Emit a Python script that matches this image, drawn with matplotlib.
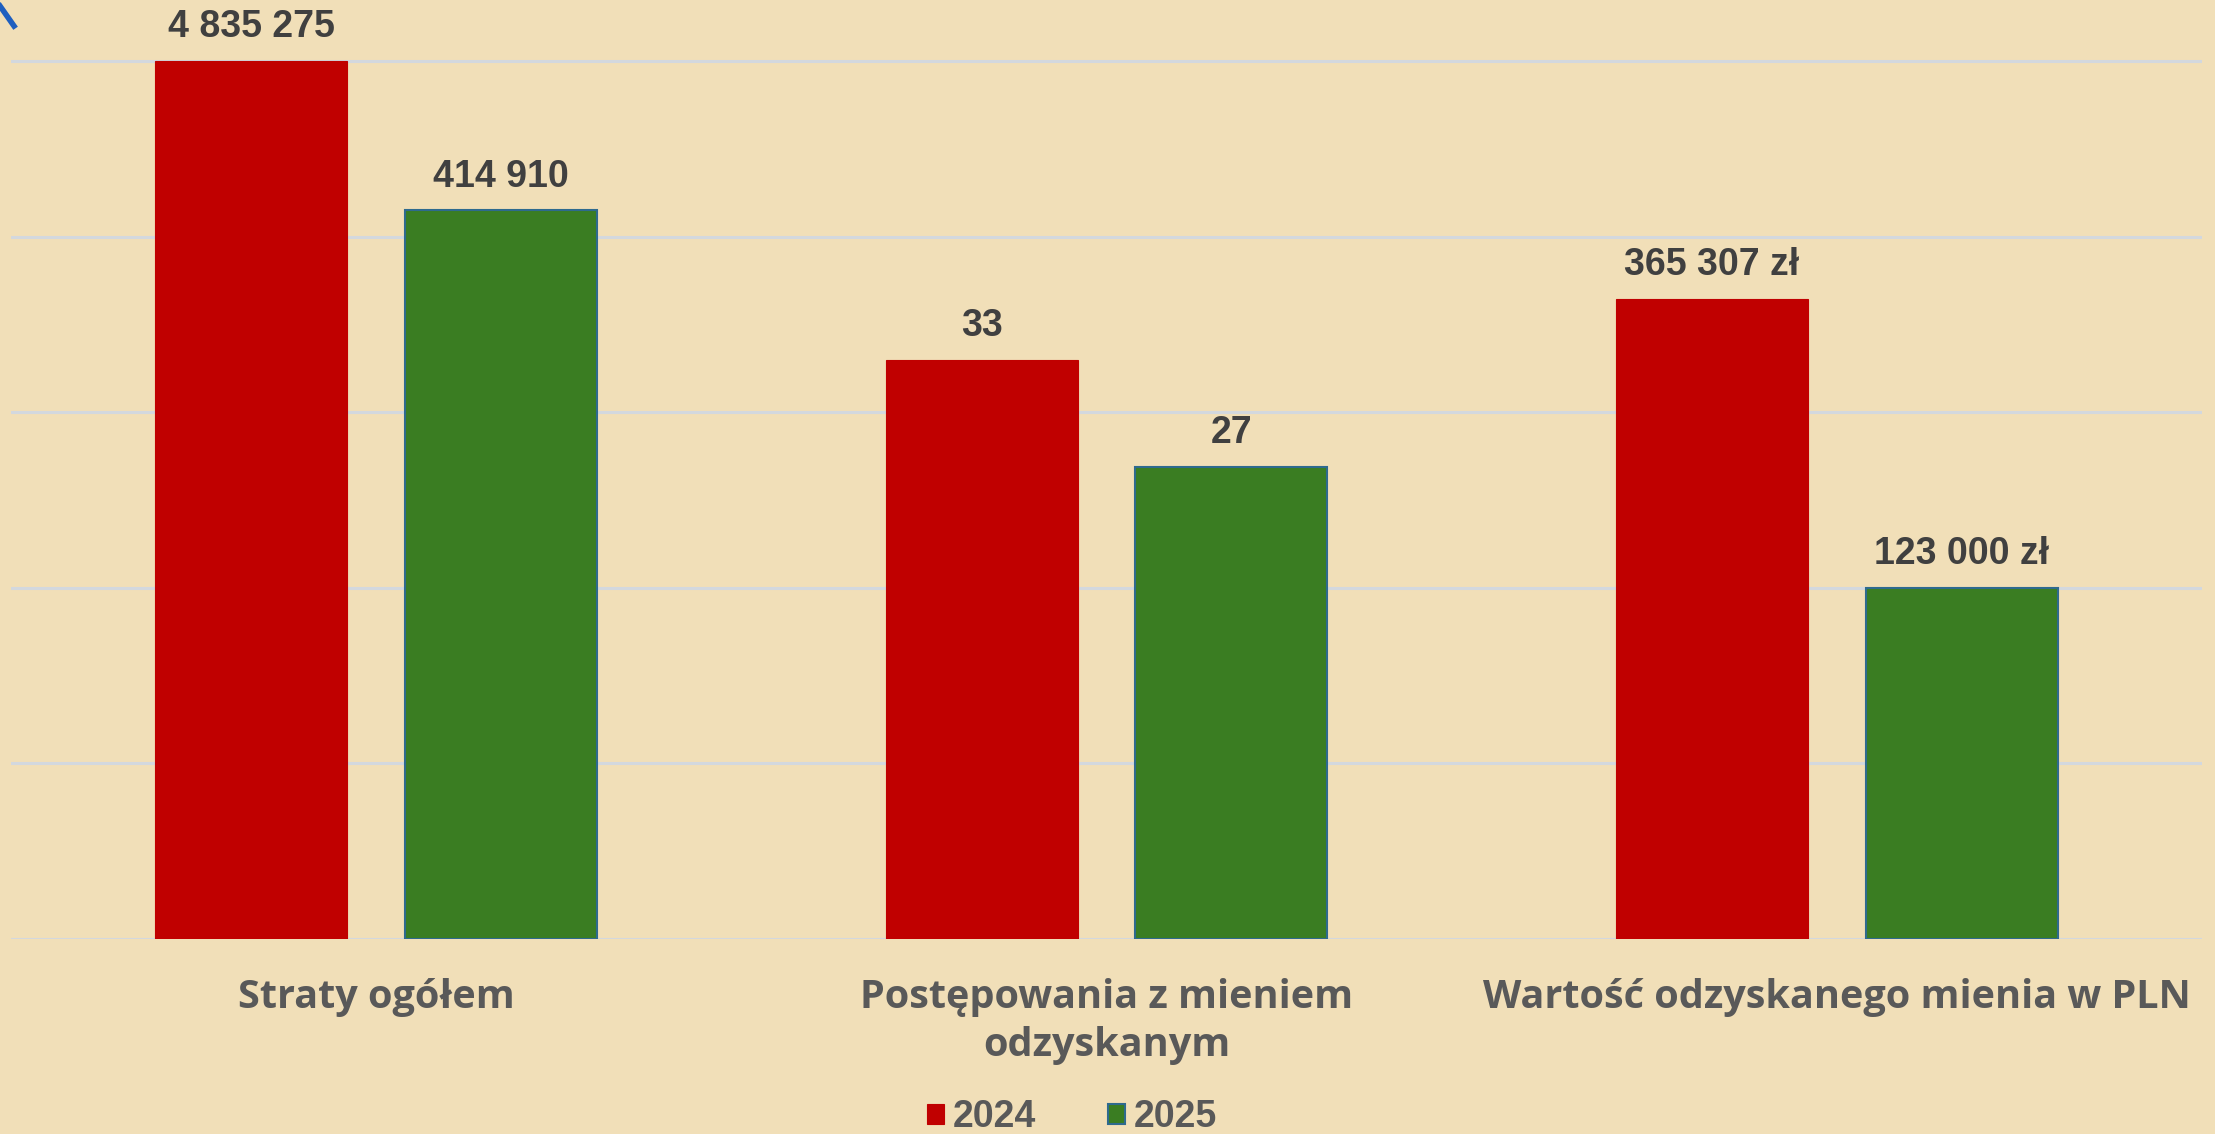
import numpy as np
import matplotlib
matplotlib.use("Agg")
import matplotlib.pyplot as plt
from matplotlib.lines import Line2D

# =========================
# 数据
# =========================

categories = ["Straty ogółem", "Postępowania z mieniem\nodzyskanym",
              "Wartość odzyskanego mienia w PLN"]

# bar heights as drawn in the chart (its own scale, 5 gridlines)
heights_2024 = [5.0, 3.30, 3.645]
heights_2025 = [4.15, 2.69, 2.0]

labels_2024 = ["4 835 275", "33", "365 307 zł"]
labels_2025 = ["414 910", "27", "123 000 zł"]

series_names = ["2024", "2025"]

# =========================
# 样式
# =========================

bg = "#F1DFB8"
red = "#C00000"
green = "#3A7D22"
edge_2025 = "#2E6A8E"
text_dark = "#404040"
text_grey = "#595959"
grid_col = "#D3D8DE"

W, H = 2215, 1134
fig = plt.figure(figsize=(W / 100, H / 100), dpi=100)
fig.patch.set_facecolor(bg)

ax = fig.add_axes([11 / W, (H - 939) / H, (2202 - 11) / W, 939 / H])
ax.set_facecolor("none")

x = np.arange(len(categories))
bw = 0.263
off = 0.171

b1 = ax.bar(x - off, heights_2024, bw, color=red, edgecolor=red, linewidth=0.8,
            label=series_names[0], zorder=3)
b2 = ax.bar(x + off, heights_2025, bw, color=green, edgecolor=edge_2025, linewidth=1.5,
            label=series_names[1], zorder=3)

ax.set_xlim(-0.5, 2.5)
ax.set_ylim(0, 939 / 175.6)
ax.set_yticks(np.arange(0, 6))
ax.yaxis.grid(True, color=grid_col, linewidth=2.2, zorder=0)
ax.tick_params(left=False, bottom=False, labelleft=False, labelbottom=False)
for s in ax.spines.values():
    s.set_visible(False)

val_font = dict(family=["Liberation Sans", "DejaVu Sans"], fontsize=27,
                fontweight="bold", color=text_dark)

for bars, labs in [(b1, labels_2024), (b2, labels_2025)]:
    for rect, lab in zip(bars, labs):
        ax.annotate(lab, (rect.get_x() + rect.get_width() / 2, rect.get_height()),
                    xytext=(0, 17), textcoords="offset points",
                    ha="center", va="baseline", annotation_clip=False, **val_font)

cat_font = dict(family=["Open Sans", "DejaVu Sans"], fontsize=28.5,
                fontweight="bold", color=text_grey)

for i, cat in enumerate(categories):
    ax.annotate(cat, (i, 0), xytext=(0, -28), textcoords="offset points",
                ha="center", va="top", linespacing=1.3,
                annotation_clip=False, **cat_font)

# legend
leg = fig.legend(handles=[b1, b2], labels=series_names, loc="center",
                 bbox_to_anchor=(1072 / W, 1 - 1117 / H), ncol=2, frameon=False,
                 handlelength=0.45, handleheight=0.45, handletextpad=0.25,
                 columnspacing=1.9,
                 prop=dict(family=["Liberation Sans", "DejaVu Sans"], size=27,
                           weight="bold"))
for t in leg.get_texts():
    t.set_color(text_grey)

# small blue stroke in the top-left corner
fig.add_artist(Line2D([0 / W, 14 / W], [1 - 6 / H, 1 - 26 / H],
                      color="#1F5FBF", linewidth=4, transform=fig.transFigure))

fig.savefig("out.png", dpi=100, facecolor=bg)
